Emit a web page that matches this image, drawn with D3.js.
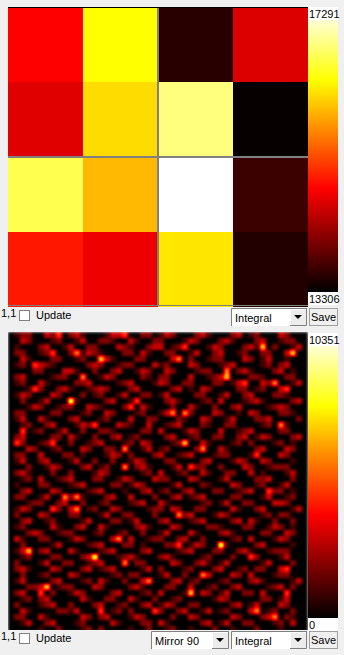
<!DOCTYPE html>
<html>
<head>
<meta charset="utf-8">
<script src="https://cdn.jsdelivr.net/npm/d3@7"></script>
<style>
  html, body { margin: 0; padding: 0; background: #f0f0f0; overflow: hidden; }
  svg { display: block; }
  text { font-family: "Liberation Sans", Arial, sans-serif; font-size: 11px; fill: #000; }
</style>
</head>
<body>
<div id="chart"></div>
<script>
// Top map, 4x4 integral values
const topValues = [
  [14760, 16280, 13533, 14561],
  [14581, 16070, 16773, 13346],
  [16594, 15860, 17291, 13645],
  [14900, 14661, 16135, 13505]
];
const topRange = [13306, 17291];
const bottomRange = [0, 10351];

// Bottom map, eye estimate on a 50x50 grid, one digit per cell (x unit below)
const bottomUnit = 1000;
const peakUnit = 1150;
const bottomRows = [
  "01220 03200 23100 01330 00220 13200 02310 00230 12000 32000",
  "00320 00120 01300 22100 31002 20001 32000 23100 02300 12200",
  "01000 23001 30022 00032 10023 30120 00013 20002 31002 00130",
  "02200 12000 20132 10002 20310 02200 13002 30012 00220 03200",
  "00310 00220 01200 03100 02200 00310 20012 20003 20130 01000",
  "01200 32100 00023 20012 20003 12000 32000 12300 00120 23000",
  "00002 20003 31002 00230 01320 03200 01220 00023 10002 30100",
  "02300 00122 00200 13200 00210 22000 30012 31000 22100 02200",
  "01200 31000 02230 00012 30001 32002 20002 20130 00320 00130",
  "00012 20023 10012 32000 23000 00230 10320 00022 01200 31000",
  "01320 00320 00201 20013 00220 13000 02200 13002 30002 21000",
  "00200 13000 31000 02300 12000 02310 00120 30001 23100 00230",
  "00013 20012 20032 10002 20310 00200 31002 00230 00012 32000",
  "02200 00220 00120 03200 01200 13200 20003 20010 32000 22100",
  "01300 31000 23000 12000 30022 00021 00320 01300 02230 00020",
  "00120 02300 01320 00032 10030 01230 00210 02200 00120 31000",
  "00001 20013 00200 22100 00220 30001 32000 30012 30000 22000",
  "02300 00220 31002 00230 12000 02300 12002 20023 01320 00230",
  "00200 12300 20012 30001 20320 00120 00310 00120 20001 20100",
  "00032 00120 00320 02200 00130 12000 02200 31000 02300 03200",
  "02200 30002 20100 01320 20002 30012 30001 22000 12000 32000",
  "01300 23000 13002 00200 13200 02200 00230 00132 00320 00100",
  "00020 01320 00230 12000 02310 00130 02200 20003 20012 22000",
  "02310 00200 20001 32000 00120 30012 00310 02200 30100 01300",
  "00120 30012 30002 20013 20003 22000 32000 13000 02230 00200",
  "01000 22000 12300 00220 13200 00130 00210 00320 01200 13000",
  "00230 00320 00012 30001 00230 12002 30002 20012 30002 20100",
  "02200 13000 23100 02300 30002 00230 12300 00220 00130 01200",
  "00012 20023 00200 12000 12300 31000 00120 13002 20003 32000",
  "01320 00120 30012 00320 00012 20320 02200 00310 02300 00130",
  "02000 32000 22000 13002 20002 00012 30001 32000 00120 22000",
  "00230 01200 00130 00220 13000 23000 12300 00230 31002 00200",
  "01200 00310 02300 31000 02310 00320 00022 10002 20013 20100",
  "00023 20012 20001 20012 00200 13000 31000 23100 00220 03200",
  "03100 22000 13200 00320 30012 20023 00200 00120 30001 32000",
  "00200 00130 00012 30002 20100 02200 13200 31000 02300 00100",
  "01320 23000 31000 12300 00230 00012 30002 20023 10012 22000",
  "00120 00220 00230 00012 31000 23100 00120 00200 32000 13000",
  "02000 13002 20012 30000 02200 00320 02310 13000 00130 00200",
  "02310 00320 00230 12300 00130 20001 20002 30012 02200 31000",
  "00200 12000 32000 00120 22000 13002 00230 00320 30001 22000",
  "01300 00230 00120 31002 00320 00230 12000 12000 23100 00130",
  "00022 30012 20003 20000 23100 02200 30012 00230 00012 30200",
  "02300 00200 13200 00230 00120 30001 20320 13002 20300 02000",
  "00120 23000 00310 02200 31002 00120 00001 32000 00220 13000",
  "02000 12300 20002 30012 00230 13200 22000 00230 13000 32000",
  "00310 00022 13000 00120 20001 20023 00130 12000 30012 00200",
  "02200 31000 00320 23000 13200 00200 32000 00320 00230 02100",
  "00130 02300 01200 00310 00220 31000 00230 13002 20001 20300",
  "00000 10020 00120 20000 10020 01200 10002 00100 02000 10000"
];
// Brighter spots seen in the crops: column, row, digit
const bottomPeaks = [
  [15,4,6],[11,3,5],[10,11,7],[7,3,4],[19,19,5],[19,22,5],[12,7,5],[2,16,4],[1,18,4],[7,18,4],
  [14,15,4],[4,9,4],[4,5,4],[21,11,4],[20,12,4],[8,0,4],[19,0,4],
  [42,2,6],[47,3,6],[28,4,5],[29,2,4],[36,7,6],[36,6,5],[44,8,5],[27,13,5],[29,13,5],[29,18,6],
  [32,19,5],[45,15,5],[46,9,4],[39,8,4],[41,20,4],[30,22,4],
  [9,27,5],[11,27,5],[11,29,5],[3,36,6],[14,37,7],[19,38,5],[18,34,5],[6,42,6],[5,43,4],[23,41,5],
  [7,29,4],[24,46,4],[15,46,4],
  [28,30,5],[35,35,7],[32,40,5],[30,43,6],[41,46,5],[44,47,5],[46,39,4],[40,37,4],[46,43,4],[28,35,4],[43,26,4]
];
const comboLabels = { mirror: "Mirror 90", integral: "Integral" };

const width = 344, height = 655;
const svg = d3.select('#chart').append('svg').attr('width', width).attr('height', height);

// same black-red-yellow-white ramp for both maps
const hot = d3.scaleLinear()
  .domain([0, 0.365, 0.746, 1])
  .range(['#000000', '#ff0000', '#ffff00', '#ffffff'])
  .clamp(true);

// Blur the grey intensities first, then colour them, so blobs keep the ramp's colours
const defs = svg.append('defs');
const soft = defs.append('filter').attr('id', 'soft')
  .attr('x', 0).attr('y', 0).attr('width', 1).attr('height', 1)
  .attr('color-interpolation-filters', 'sRGB');
soft.append('feGaussianBlur').attr('stdDeviation', 1.5);
const ramp = d3.range(0, 1.001, 0.02).map(t => d3.rgb(hot(t)));
const transfer = soft.append('feComponentTransfer');
[['feFuncR', 'r'], ['feFuncG', 'g'], ['feFuncB', 'b']].forEach(([fn, ch]) => {
  transfer.append(fn).attr('type', 'table')
    .attr('tableValues', ramp.map(c => (c[ch] / 255).toFixed(3)).join(' '));
});
defs.append('clipPath').attr('id', 'bot-clip')
  .append('rect').attr('x', 8).attr('y', 332).attr('width', 300).attr('height', 298);

function drawColorbar(y0, range) {
  const barH = 298;
  const g = svg.append('g').attr('shape-rendering', 'crispEdges');
  const t = d3.scaleLinear().domain([y0 + 285, y0]).range([0, 1]);
  g.selectAll('rect').data(d3.range(y0, y0 + 286)).join('rect')
    .attr('x', 308).attr('y', d => d).attr('width', 30).attr('height', 1)
    .attr('fill', d => hot(t(d)));
  // white label boxes
  g.append('rect').attr('x', 308).attr('y', y0).attr('width', 30).attr('height', 13).attr('fill', '#fff');
  g.append('rect').attr('x', 308).attr('y', y0 + barH - 13).attr('width', 30).attr('height', 13).attr('fill', '#fff');
  svg.append('text').attr('x', 309).attr('y', y0 + 11).text(range[1]);
  svg.append('text').attr('x', 309).attr('y', y0 + barH - 2).text(range[0]);
}

function drawCombo(x, y, w, label) {
  const g = svg.append('g').attr('transform', `translate(${x},${y})`);
  g.append('rect').attr('width', w).attr('height', 18).attr('fill', '#fff');
  g.append('path').attr('d', `M0.5,18V0.5H${w}`).attr('fill', 'none').attr('stroke', '#808080');
  g.append('rect').attr('x', w - 17).attr('y', 1).attr('width', 16).attr('height', 16).attr('fill', '#ececec');
  g.append('path').attr('d', `M${w - 16.5},17V1.5H${w - 1}`).attr('fill', 'none').attr('stroke', '#fff');
  g.append('path').attr('d', `M${w - 0.5},1V17.5H${w - 17}`).attr('fill', 'none').attr('stroke', '#808080');
  g.append('path').attr('d', `M${w - 13},7h8l-4,4z`).attr('fill', '#000');
  g.append('text').attr('x', 4).attr('y', 14).text(label);
}

function drawControls(y, showMirror) {
  svg.append('text').attr('x', 1).attr('y', y + 9).text('1,1');
  svg.append('rect').attr('x', 19.5).attr('y', y + 2.5).attr('width', 10).attr('height', 10)
    .attr('fill', '#fff').attr('stroke', '#808080');
  svg.append('text').attr('x', 36).attr('y', y + 11).text('Update');
  if (showMirror) drawCombo(151, y, 78, comboLabels.mirror);
  drawCombo(231, y, 76, comboLabels.integral);
  svg.append('rect').attr('x', 309.5).attr('y', y + 0.5).attr('width', 28).attr('height', 17)
    .attr('fill', '#f0f0f0').attr('stroke', '#a0a0a0');
  svg.append('text').attr('x', 311).attr('y', y + 13).text('Save');
}

// Top map
const topX = d3.scaleBand().domain(d3.range(4)).range([8, 308]);
const topY = d3.scaleBand().domain(d3.range(4)).range([7, 307]);
const topColor = d3.scaleLinear().domain(topRange).range([0, 1]);
svg.append('g').attr('shape-rendering', 'crispEdges').selectAll('g').data(topValues).join('g')
  .each(function(row, r) {
    d3.select(this).selectAll('rect').data(row).join('rect')
      .attr('x', (d, c) => topX(c)).attr('y', topY(r))
      .attr('width', topX.bandwidth()).attr('height', topY.bandwidth())
      .attr('fill', d => hot(topColor(d)));
  });
// module borders
svg.append('line').attr('x1', topX(2)).attr('x2', topX(2)).attr('y1', 7).attr('y2', 306)
  .attr('stroke', '#808080').attr('stroke-width', 2);
svg.append('line').attr('x1', 8).attr('x2', 308).attr('y1', topY(2)).attr('y2', topY(2))
  .attr('stroke', '#808080').attr('stroke-width', 2);
svg.append('rect').attr('x', 8).attr('y', 7).attr('width', 300).attr('height', 1).attr('fill', '#000');
svg.append('rect').attr('x', 8).attr('y', 305).attr('width', 300).attr('height', 1).attr('fill', '#808080');
drawColorbar(7, topRange);
drawControls(308, false);

// Bottom map: cells hold grey intensity, the filter maps it onto the ramp
const grid = bottomRows.map(r => r.replace(/ /g, '').split('').map(d => +d * bottomUnit));
bottomPeaks.forEach(([c, r, d]) => { grid[r][c] = d * peakUnit; });
const cells = grid.flatMap((row, r) => row.map((value, c) => ({ r, c, value })));
const botX = d3.scaleBand().domain(d3.range(50)).range([8, 308]);
const botY = d3.scaleBand().domain(d3.range(50)).range([332, 632]);
const botGrey = d3.scaleLinear().domain(bottomRange).range(['#000000', '#ffffff']).interpolate(d3.interpolateRgb);
const botG = svg.append('g').attr('clip-path', 'url(#bot-clip)');
botG.append('g').attr('filter', 'url(#soft)').attr('shape-rendering', 'crispEdges')
  .selectAll('rect').data(cells).join('rect')
  .attr('x', d => botX(d.c)).attr('y', d => botY(d.r))
  .attr('width', botX.bandwidth()).attr('height', botY.bandwidth())
  .attr('fill', d => botGrey(d.value));
drawColorbar(333, bottomRange);
drawControls(631, true);
</script>
</body>
</html>
